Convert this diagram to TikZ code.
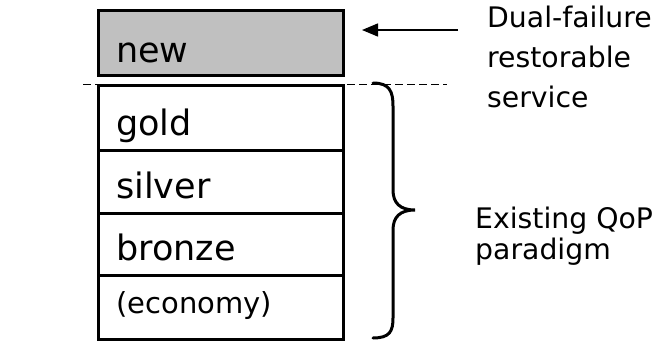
\documentclass[tikz,border=0pt]{standalone}
\usepackage{fontspec}
\setmainfont{DejaVu Sans}
\usetikzlibrary{arrows.meta}
\definecolor{newgray}{HTML}{C0C0C0}
\tikzset{
  tier/.style={draw=black, line width=2.6pt, minimum width=245pt, inner sep=0pt, anchor=north west},
  tierlabel/.style={anchor=base west, inner sep=0pt, font=\fontsize{35}{40}\selectfont},
  smalllabel/.style={anchor=base west, inner sep=0pt, font=\fontsize{29}{34}\selectfont},
  sidelabel/.style={anchor=base west, inner sep=0pt, font=\fontsize{28.3}{34}\selectfont},
}
\begin{document}
\begin{tikzpicture}[x=1pt,y=-1pt]
\useasboundingbox (0,0) rectangle (657,343);
% boxes
\node[tier, fill=newgray, minimum height=65pt] (newbox) at (97,9) {};
\node[tier, minimum height=65pt] (gold) at (97,84) {};
\node[tier, minimum height=63pt] (silver) at (97,149) {};
\node[tier, minimum height=62pt] (bronze) at (97,212) {};
\node[tier, minimum height=64pt] (econ) at (97,274) {};
% labels
\node[tierlabel] (lnew) at (116,62) {new};
\node[tierlabel] (lgold) at (116,135) {gold};
\node[tierlabel] (lsilver) at (116,198) {silver};
\node[tierlabel] (lbronze) at (116,260) {bronze};
\node[smalllabel] (lecon) at (116,313) {(economy)};
% dashed separator
\coordinate (dashL) at (83,84);
\coordinate (dashR) at (447,84);
\draw[line width=1pt, dash pattern=on 8pt off 4pt] (dashL) -- (dashR);
% arrow
\coordinate (arrS) at (458,30);
\coordinate (arrT) at (362,30);
\draw[line width=1.5pt, -{Triangle[length=16pt,width=13pt]}] (arrS) -- (arrT);
% brace
\draw[line width=3pt, line cap=round]
  (373,83) .. controls (390,83) and (393,92) .. (393,106)
  -- (393,190) .. controls (393,203) and (400,210) .. (415,210)
  .. controls (400,210) and (393,217) .. (393,230)
  -- (393,318) .. controls (393,331) and (390,338) .. (373,338);
% side texts
\node[sidelabel] (t1) at (487,27) {Dual-failure};
\node[sidelabel] (t2) at (487,67) {restorable};
\node[sidelabel] (t3) at (487,107) {service};
\node[sidelabel] (t4) at (475,228) {Existing QoP};
\node[sidelabel] (t5) at (475,259) {paradigm};
\end{tikzpicture}
\end{document}
